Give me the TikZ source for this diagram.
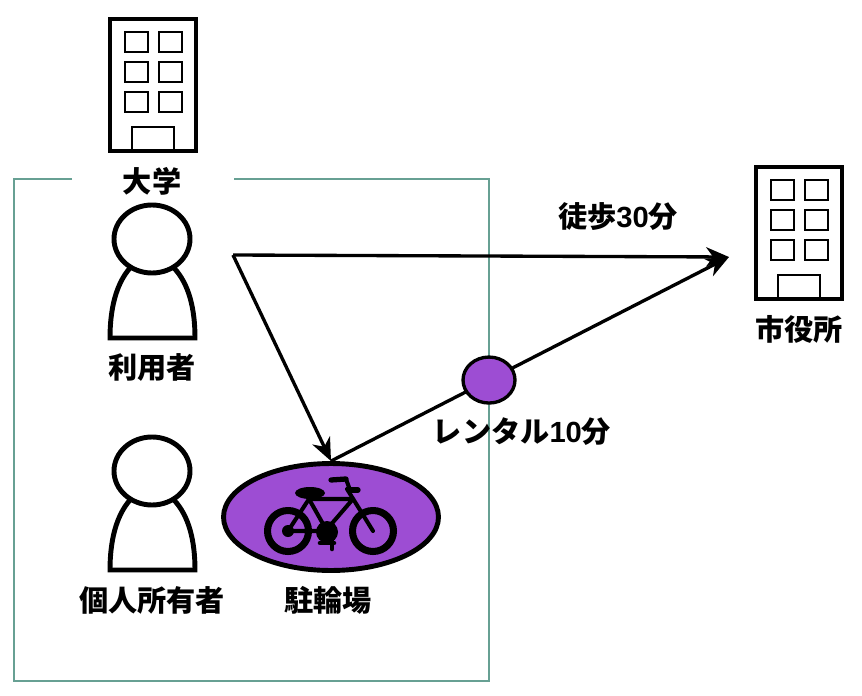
\documentclass[tikz,border=0pt]{standalone}
\usepackage{fontspec}
\usepackage{xcolor}
\setmainfont{Noto Sans CJK JP}
\newfontfamily\latinfont{Liberation Sans}
\usetikzlibrary{arrows.meta,shapes.geometric}
\definecolor{framegreen}{HTML}{67A093}
\definecolor{spotpurple}{HTML}{9D4DD3}
\tikzset{
  label/.style={font=\fontsize{16.6}{18}\selectfont\bfseries, inner sep=0pt},
  route/.style={line width=1.9pt, -{Stealth[length=13pt,width=11pt,inset=4pt]}},
  building/.pic={
    \draw[line width=2.8pt, fill=white] (-43,-66) rectangle (43,66);
    \foreach \wx in {-28,6}
      \foreach \wy in {-53,-23,7}
        \draw[line width=1.5pt] (\wx,\wy) rectangle ++(23,20);
    \draw[line width=1.5pt] (-21,64) -- (-21,42) -- (21,42) -- (21,64);
  },
  person/.pic={
    \draw[line width=2.8pt] (-22,29) .. controls (-36,45) and (-42,70) .. (-42,99) -- (43,99) .. controls (43,70) and (37,45) .. (22,29);
    \draw[line width=2.8pt, fill=white] (0,0) ellipse (38 and 34);
  }
}
\begin{document}
\begin{tikzpicture}[x=0.02cm, y=-0.02cm]
  \useasboundingbox (0,0) rectangle (862,696);
  % frame around the university
  \draw[framegreen, line width=1.2pt] (72,179) -- (14,179) -- (14,681) -- (489,681) -- (489,179) -- (234,179);

  \pic at (153,85) {building};
  \pic at (799,233) {building};
  \pic at (152,239) {person};
  \pic at (152,471) {person};

  \node[label] (univ) at (152,181) {大学};
  \node[label] (user) at (152,368) {利用者};
  \node[label] (owner) at (152,600) {個人所有者};
  \node[label] (port) at (328,600) {駐輪場};
  \node[label] (hall) at (799,329) {市役所};
  \node[label] (walk) at (618,217) {徒歩{\latinfont 30}分};

  \node[ellipse, draw, line width=2.8pt, fill=spotpurple, minimum width=4.3cm, minimum height=2.14cm, inner sep=0pt] (parking) at (331,517) {};

  % bicycle
  \begin{scope}[line cap=round, line join=round]
    \draw[line width=4pt] (288,531) circle (20.5);
    \draw[line width=4pt] (373,531) circle (20.5);
    \fill (288,531) circle (6);
    \fill (327,532) circle (11);
    \draw[line width=2.3pt] (288,531) -- (327,531) -- (309,499) -- cycle;
    \draw[line width=2.3pt] (309,499) -- (353,499) -- (328,528);
    \draw[line width=2.3pt] (347,489) -- (373,531);
    \draw[line width=3pt] (331,480) -- (346,479);
    \draw[line width=2.3pt] (346,479) -- (350,490);
    \draw[line width=3pt] (349,490) -- (358,490);
    \fill (310,493) ellipse (15 and 6);
    \draw[line width=2.6pt] (320,543) -- (334,543);
    \draw[line width=2.6pt] (332,535) -- (332,549);
  \end{scope}

  \coordinate (start) at (233,255);
  \coordinate (goal) at (729,257);
  \draw[route] (start) -- (goal);
  \draw[route] (start) -- (parking.north);
  \draw[route] (parking.north) -- node[pos=0.397, ellipse, draw, line width=1.9pt, fill=spotpurple, minimum width=1.04cm, minimum height=0.92cm, inner sep=0pt] (rental) {} (goal);
  \node[label] (rentallabel) at (522,432) {レンタル{\latinfont 10}分};
\end{tikzpicture}
\end{document}
